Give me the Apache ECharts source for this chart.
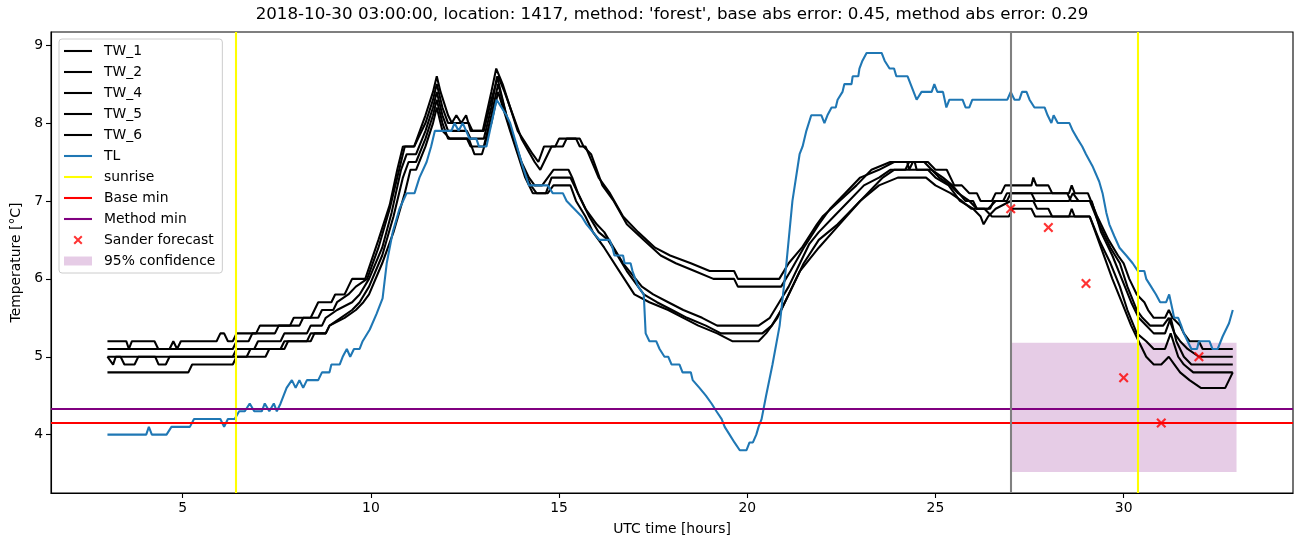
<!DOCTYPE html>
<html>
<head>
<meta charset="utf-8">
<script src="https://cdn.jsdelivr.net/npm/echarts@6/dist/echarts.min.js"></script>
<style>html,body{margin:0;padding:0;background:#fff}#chart{width:1302px;height:547px}</style>
</head>
<body>
<div id="chart"></div>
<script>
// ---------------- data (hours UTC, temperature °C) ----------------
const tw1 = [[3.0,5.2],[3.5,5.2],[3.57,5.1],[3.65,5.2],[4.25,5.2],[4.35,5.1],[4.65,5.1],[4.75,5.2],[4.85,5.1],[4.95,5.2],[5.9,5.2],[6.0,5.3],[6.1,5.3],[6.2,5.2],[6.33,5.2],[6.43,5.3],[6.95,5.3],[7.05,5.4],[7.85,5.4],[7.95,5.5],[8.4,5.5],[8.5,5.6],[8.6,5.7],[8.95,5.7],[9.05,5.8],[9.3,5.8],[9.4,5.9],[9.5,6.0],[9.85,6.0],[10.2,6.5],[10.5,6.95],[10.7,7.4],[10.85,7.7],[11.15,7.7],[11.45,8.1],[11.65,8.4],[11.75,8.6],[11.85,8.4],[12.05,8.1],[12.15,8.0],[12.27,8.1],[12.4,8.0],[12.53,8.1],[12.65,7.9],[12.97,7.9],[13.2,8.4],[13.33,8.7],[13.5,8.5],[13.9,7.9],[14.3,7.6],[14.45,7.5],[14.6,7.7],[14.9,7.7],[15.0,7.8],[15.45,7.8],[15.55,7.7],[15.7,7.7],[16.05,7.3],[16.35,7.1],[16.7,6.8],[17.1,6.6],[17.55,6.4],[17.95,6.3],[18.5,6.2],[19.0,6.1],[19.65,6.1],[19.75,6.0],[20.85,6.0],[21.1,6.2],[21.45,6.4],[21.85,6.7],[22.0,6.8],[22.45,7.0],[22.9,7.2],[23.3,7.4],[23.8,7.5],[24.25,7.5],[24.3,7.4],[24.4,7.5],[24.8,7.5],[25.0,7.4],[25.3,7.4],[25.5,7.2],[25.7,7.2],[25.9,7.1],[26.1,7.1],[26.2,7.0],[26.5,7.0],[26.6,7.1],[26.75,7.1],[26.85,7.2],[27.55,7.2],[27.6,7.3],[27.68,7.2],[28.0,7.2],[28.1,7.1],[28.55,7.1],[28.62,7.2],[28.7,7.1],[29.05,7.1],[29.3,6.8],[29.6,6.5],[29.85,6.3],[30.0,6.2],[30.15,6.0],[30.35,5.8],[30.55,5.7],[30.65,5.6],[30.8,5.5],[31.1,5.5],[31.2,5.6],[31.3,5.5],[31.5,5.4],[31.6,5.3],[31.75,5.2],[32.0,5.2],[32.1,5.1],[32.9,5.1]];
const tw2 = [[3.0,5.1],[6.33,5.1],[6.43,5.2],[6.75,5.2],[6.85,5.3],[7.45,5.3],[7.55,5.4],[8.1,5.4],[8.2,5.5],[8.6,5.5],[8.7,5.6],[9.0,5.6],[9.1,5.7],[9.4,5.8],[9.6,5.9],[9.9,6.0],[10.2,6.4],[10.5,6.9],[10.75,7.4],[10.9,7.7],[11.15,7.7],[11.45,8.0],[11.65,8.3],[11.75,8.5],[11.9,8.2],[12.05,8.0],[12.6,8.0],[12.7,7.9],[13.0,7.9],[13.2,8.3],[13.38,8.6],[13.55,8.4],[14.0,7.8],[14.35,7.5],[14.5,7.4],[14.7,7.6],[14.8,7.7],[15.1,7.7],[15.2,7.8],[15.55,7.8],[15.65,7.7],[15.85,7.6],[16.15,7.2],[16.45,7.0],[16.8,6.7],[17.25,6.5],[17.7,6.3],[18.1,6.2],[18.6,6.1],[19.1,6.0],[19.65,6.0],[19.75,5.9],[20.9,5.9],[21.15,6.1],[21.5,6.4],[21.9,6.7],[22.2,6.9],[22.6,7.1],[23.0,7.3],[23.5,7.4],[23.9,7.5],[24.7,7.5],[24.9,7.4],[25.2,7.3],[25.45,7.2],[25.8,7.0],[26.0,7.0],[26.1,6.9],[26.45,6.9],[26.55,7.0],[26.8,7.0],[26.9,7.1],[27.55,7.1],[27.65,7.0],[28.55,7.0],[28.65,7.1],[28.8,7.0],[29.1,7.0],[29.35,6.7],[29.65,6.4],[29.9,6.2],[30.1,5.9],[30.35,5.6],[30.5,5.5],[30.7,5.4],[31.05,5.4],[31.2,5.5],[31.35,5.3],[31.5,5.2],[31.7,5.1],[32.0,5.0],[32.9,5.0]];
const tw4 = [[3.0,5.0],[6.33,5.0],[6.43,5.1],[6.9,5.1],[7.0,5.2],[7.6,5.2],[7.7,5.3],[8.3,5.3],[8.4,5.4],[8.7,5.4],[8.8,5.5],[9.1,5.6],[9.5,5.7],[9.7,5.8],[9.95,6.0],[10.3,6.4],[10.55,6.85],[10.8,7.4],[10.95,7.6],[11.2,7.6],[11.45,7.9],[11.65,8.2],[11.75,8.4],[11.9,8.1],[12.05,7.9],[12.55,7.9],[12.65,7.8],[13.0,7.8],[13.2,8.2],[13.35,8.6],[13.6,8.1],[13.8,7.8],[14.0,7.5],[14.2,7.3],[14.35,7.2],[14.55,7.2],[14.7,7.3],[14.85,7.4],[15.25,7.4],[15.35,7.3],[15.5,7.1],[15.7,6.9],[16.0,6.7],[16.2,6.6],[16.7,6.2],[17.2,5.9],[17.5,5.8],[17.9,5.7],[18.3,5.6],[18.8,5.5],[19.2,5.4],[20.3,5.4],[20.6,5.5],[20.85,5.7],[21.1,5.9],[21.4,6.2],[21.65,6.45],[21.9,6.6],[22.3,6.8],[22.7,7.0],[23.1,7.2],[23.5,7.3],[23.8,7.4],[24.2,7.4],[24.3,7.5],[24.45,7.5],[24.5,7.4],[24.9,7.4],[25.1,7.3],[25.4,7.2],[25.6,7.1],[25.9,7.0],[26.1,6.9],[26.4,6.9],[26.6,7.0],[26.9,7.0],[27.0,7.1],[28.5,7.1],[28.6,7.0],[29.15,7.0],[29.4,6.6],[29.7,6.3],[29.95,6.0],[30.2,5.7],[30.4,5.5],[30.6,5.4],[30.8,5.3],[31.1,5.3],[31.25,5.5],[31.4,5.2],[31.6,5.0],[31.8,4.9],[32.9,4.9]];
const tw5 = [[3.0,5.0],[3.15,4.9],[3.22,5.0],[3.35,5.0],[3.45,4.9],[3.72,4.9],[3.82,5.0],[4.27,5.0],[4.36,4.9],[4.55,4.9],[4.65,5.0],[6.7,5.0],[6.8,5.1],[7.6,5.1],[7.7,5.2],[8.3,5.2],[8.4,5.3],[8.8,5.3],[8.9,5.4],[9.2,5.5],[9.5,5.6],[9.7,5.7],[9.95,5.9],[10.3,6.3],[10.6,6.8],[10.85,7.3],[11.0,7.5],[11.2,7.5],[11.45,7.8],[11.65,8.1],[11.75,8.3],[11.9,8.0],[12.05,7.8],[12.55,7.8],[12.65,7.7],[13.0,7.7],[13.2,8.1],[13.38,8.5],[13.65,8.0],[13.85,7.7],[14.05,7.4],[14.25,7.2],[14.4,7.1],[14.65,7.1],[14.8,7.3],[15.3,7.3],[15.4,7.2],[15.6,7.0],[15.8,6.8],[16.05,6.6],[16.3,6.5],[16.8,6.1],[17.25,5.8],[17.6,5.7],[18.0,5.6],[18.4,5.5],[18.9,5.4],[19.3,5.3],[20.4,5.3],[20.65,5.4],[20.9,5.6],[21.2,5.9],[21.5,6.2],[21.9,6.5],[22.4,6.7],[22.8,6.9],[23.2,7.1],[23.6,7.3],[23.9,7.4],[24.8,7.4],[25.0,7.3],[25.35,7.2],[25.65,7.0],[26.0,6.9],[26.2,6.8],[26.28,6.7],[26.4,6.8],[26.6,6.9],[27.0,7.0],[27.6,7.0],[27.7,6.9],[28.0,6.9],[28.1,6.8],[29.1,6.8],[29.35,6.5],[29.65,6.2],[29.9,5.9],[30.1,5.6],[30.35,5.3],[30.6,5.2],[30.8,5.1],[31.1,5.1],[31.25,5.3],[31.45,5.0],[31.6,4.9],[31.85,4.8],[32.9,4.8]];
const tw6 = [[3.0,4.8],[5.15,4.8],[5.25,4.9],[6.33,4.9],[6.43,5.0],[7.2,5.0],[7.3,5.1],[7.7,5.1],[7.8,5.2],[8.4,5.2],[8.5,5.3],[8.8,5.3],[8.9,5.4],[9.3,5.5],[9.6,5.6],[9.8,5.7],[9.95,5.8],[10.3,6.2],[10.6,6.6],[10.9,7.1],[11.05,7.4],[11.2,7.4],[11.45,7.7],[11.65,8.0],[11.75,8.2],[11.9,7.9],[12.1,7.8],[12.6,7.8],[12.75,7.6],[12.95,7.6],[13.2,8.0],[13.38,8.4],[13.7,7.9],[13.9,7.6],[14.1,7.3],[14.3,7.1],[14.7,7.1],[14.85,7.2],[15.3,7.2],[15.45,7.0],[15.7,6.8],[15.9,6.6],[16.2,6.4],[16.6,6.1],[17.0,5.8],[17.4,5.7],[17.9,5.6],[18.3,5.5],[18.7,5.4],[19.2,5.3],[19.6,5.2],[20.3,5.2],[20.5,5.3],[20.8,5.5],[21.1,5.8],[21.4,6.1],[21.9,6.4],[22.45,6.7],[23.0,7.0],[23.5,7.2],[24.0,7.3],[24.75,7.3],[25.0,7.2],[25.4,7.1],[25.7,7.0],[25.95,6.9],[26.3,6.9],[26.5,6.8],[26.95,6.8],[27.05,6.9],[27.55,6.9],[27.65,6.8],[28.55,6.8],[28.62,6.9],[28.7,6.8],[29.1,6.8],[29.4,6.4],[29.7,6.0],[29.95,5.7],[30.2,5.4],[30.4,5.2],[30.6,5.0],[30.8,4.9],[31.0,4.9],[31.2,5.0],[31.35,4.9],[31.5,4.8],[31.75,4.7],[32.05,4.6],[32.7,4.6],[32.9,4.8]];
const tl = [[3.0,4.0],[4.03,4.0],[4.1,4.1],[4.18,4.0],[4.57,4.0],[4.7,4.1],[5.19,4.1],[5.3,4.2],[6.0,4.2],[6.1,4.1],[6.2,4.2],[6.38,4.2],[6.5,4.3],[6.65,4.3],[6.78,4.4],[6.9,4.3],[7.1,4.3],[7.18,4.4],[7.3,4.3],[7.42,4.4],[7.5,4.3],[7.6,4.4],[7.76,4.6],[7.9,4.7],[8.0,4.6],[8.1,4.7],[8.2,4.6],[8.3,4.7],[8.6,4.7],[8.7,4.8],[8.9,4.8],[8.95,4.9],[9.17,4.9],[9.25,5.0],[9.36,5.1],[9.45,5.0],[9.55,5.1],[9.7,5.1],[9.78,5.2],[9.97,5.35],[10.15,5.55],[10.31,5.75],[10.42,6.2],[10.58,6.6],[10.76,6.9],[10.95,7.1],[11.16,7.1],[11.29,7.3],[11.48,7.5],[11.6,7.7],[11.7,7.9],[12.14,7.9],[12.22,8.0],[12.33,7.9],[12.44,8.0],[12.62,7.8],[12.8,7.8],[12.87,7.7],[13.07,7.7],[13.34,8.3],[13.47,8.2],[13.6,8.1],[13.7,8.0],[14.03,7.45],[14.2,7.2],[14.7,7.2],[14.83,7.1],[15.1,7.1],[15.2,7.0],[15.4,6.9],[15.6,6.8],[15.73,6.7],[15.9,6.6],[16.07,6.5],[16.34,6.5],[16.42,6.4],[16.47,6.3],[16.7,6.3],[16.74,6.2],[16.9,6.2],[16.95,6.1],[17.1,5.9],[17.25,5.8],[17.3,5.3],[17.4,5.2],[17.58,5.2],[17.67,5.1],[17.8,5.0],[17.9,5.0],[17.99,4.9],[18.2,4.9],[18.28,4.8],[18.5,4.8],[18.55,4.7],[18.73,4.6],[18.9,4.5],[19.05,4.4],[19.18,4.3],[19.32,4.2],[19.4,4.1],[19.53,4.0],[19.66,3.9],[19.8,3.8],[19.98,3.8],[20.06,3.9],[20.15,3.9],[20.24,4.0],[20.3,4.1],[20.38,4.2],[20.5,4.5],[20.67,4.9],[20.86,5.4],[21.04,6.2],[21.2,7.0],[21.39,7.6],[21.47,7.7],[21.57,7.9],[21.7,8.1],[21.97,8.1],[22.05,8.0],[22.13,8.1],[22.24,8.2],[22.35,8.2],[22.4,8.3],[22.53,8.4],[22.58,8.5],[22.77,8.5],[22.8,8.6],[22.95,8.6],[22.98,8.7],[23.06,8.8],[23.17,8.9],[23.57,8.9],[23.65,8.8],[23.78,8.7],[23.9,8.7],[23.96,8.6],[24.26,8.6],[24.34,8.5],[24.5,8.3],[24.63,8.4],[24.9,8.4],[24.97,8.5],[25.05,8.4],[25.2,8.4],[25.29,8.2],[25.37,8.3],[25.72,8.3],[25.8,8.2],[25.9,8.2],[25.98,8.3],[26.91,8.3],[27.0,8.4],[27.1,8.3],[27.23,8.3],[27.3,8.4],[27.42,8.4],[27.5,8.3],[27.63,8.2],[27.9,8.2],[27.98,8.1],[28.08,8.0],[28.14,8.1],[28.25,8.0],[28.56,8.0],[28.65,7.9],[28.77,7.8],[28.9,7.7],[29.0,7.6],[29.17,7.45],[29.35,7.25],[29.44,7.1],[29.54,6.85],[29.62,6.7],[29.75,6.55],[29.89,6.4],[30.07,6.3],[30.24,6.2],[30.38,6.1],[30.55,6.1],[30.6,6.0],[30.73,5.9],[30.86,5.8],[30.97,5.7],[31.13,5.7],[31.21,5.8],[31.3,5.6],[31.34,5.5],[31.45,5.5],[31.53,5.4],[31.6,5.3],[31.7,5.2],[31.8,5.1],[31.95,5.1],[32.0,5.2],[32.28,5.2],[32.36,5.1],[32.5,5.1],[32.63,5.26],[32.8,5.43],[32.9,5.6]];
const sunriseHours = [6.41, 30.37];
const forecastHour = 27.0;
const baseMin = 4.15;
const methodMin = 4.33;
const sanderForecast = [[27,6.9],[28,6.66],[29,5.94],[30,4.73],[31,4.15],[32,5.0]];
const confHours = [27, 33];
const confBounds = [3.52, 5.18];
const xTicks = [5, 10, 15, 20, 25, 30];
const yTicks = [4, 5, 6, 7, 8, 9];
const xRange = [1.5, 34.5];
const yRange = [3.251, 9.169];
const titleText = "2018-10-30 03:00:00, location: 1417, method: 'forest', base abs error: 0.45, method abs error: 0.29";

// ---------------- chart ----------------
const FONT = 'DejaVu Sans';
const LW = 2.08;
const chart = echarts.init(document.getElementById('chart'), null, {renderer: 'canvas'});

const LINE_ICON = 'path://M0,0L0,0M35,10L35,10M0,3.96L28,3.96L28,6.04L0,6.04Z';
const X_ICON = 'path://M0,0L0,0M35,10L35,10M10.9,0.5L14,3.6L17.1,0.5L18.5,1.9L15.4,5L18.5,8.1L17.1,9.5L14,6.4L10.9,9.5L9.5,8.1L12.6,5L9.5,1.9Z';
const RECT_ICON = 'path://M0,0L0,0M35,10L35,10M0,0.5L28,0.5L28,9.5L0,9.5Z';
const X_SYMBOL = 'path://M1.55,0L5,3.45L8.45,0L10,1.55L6.55,5L10,8.45L8.45,10L5,6.55L1.55,10L0,8.45L3.45,5L0,1.55Z';

function lineSeries(name, data, color) {
  return {
    name, type: 'line', data, color,
    showSymbol: false, symbol: 'none',
    lineStyle: {width: LW, color},
    emphasis: {disabled: true}, silent: true, animation: false, z: 3
  };
}
function markSeries(name, color, markData, z) {
  return {
    name, type: 'line', data: [], color, silent: true, animation: false,
    markLine: {
      silent: true, symbol: ['none', 'none'], animation: false,
      label: {show: false},
      lineStyle: {color, width: LW, type: 'solid'},
      emphasis: {disabled: true},
      data: markData
    },
    z: z || 4
  };
}

const option = {
  animation: false,
  backgroundColor: '#ffffff',
  textStyle: {fontFamily: FONT, color: '#000'},
  title: {
    text: titleText, left: 672, top: 6, textAlign: 'center', padding: 0,
    textStyle: {fontFamily: FONT, fontSize: 16.7, fontWeight: 'normal', color: '#000'}
  },
  grid: {left: 51, right: 9, top: 32, bottom: 54, show: true, borderColor: '#000', borderWidth: 1.1, backgroundColor: 'transparent'},
  legend: {
    left: 59, top: 39, orient: 'vertical',
    itemWidth: 35, itemHeight: 10, itemGap: 5,
    padding: [4, 7, 4, 5],
    backgroundColor: 'rgba(255,255,255,0.8)', borderColor: '#cccccc', borderWidth: 1, borderRadius: 3,
    textStyle: {fontFamily: FONT, fontSize: 13.9, color: '#000', lineHeight: 16},
    itemStyle: {borderWidth: 0},
    selectedMode: false,
    data: [
      {name: 'TW_1', icon: LINE_ICON}, {name: 'TW_2', icon: LINE_ICON}, {name: 'TW_4', icon: LINE_ICON},
      {name: 'TW_5', icon: LINE_ICON}, {name: 'TW_6', icon: LINE_ICON}, {name: 'TL', icon: LINE_ICON},
      {name: 'sunrise', icon: LINE_ICON}, {name: 'Base min', icon: LINE_ICON}, {name: 'Method min', icon: LINE_ICON},
      {name: 'Sander forecast', icon: X_ICON}, {name: '95% confidence', icon: RECT_ICON}
    ]
  },
  xAxis: {
    type: 'value', min: xRange[0], max: xRange[1],
    name: 'UTC time [hours]', nameLocation: 'middle', nameGap: 29,
    nameTextStyle: {fontFamily: FONT, fontSize: 13.9, color: '#000'},
    axisLine: {show: true, onZero: false, lineStyle: {color: '#000', width: 1.1}},
    axisTick: {show: true, length: 5, lineStyle: {color: '#000', width: 1.1}, customValues: xTicks},
    axisLabel: {fontFamily: FONT, fontSize: 13.9, color: '#000', margin: 8, customValues: xTicks},
    splitLine: {show: false}
  },
  yAxis: {
    type: 'value', min: yRange[0], max: yRange[1],
    name: 'Temperature [°C]', nameLocation: 'middle', nameGap: 28, nameRotate: 90,
    nameTextStyle: {fontFamily: FONT, fontSize: 13.9, color: '#000'},
    axisLine: {show: true, onZero: false, lineStyle: {color: '#000', width: 1.1}},
    axisTick: {show: true, length: 5, lineStyle: {color: '#000', width: 1.1}, customValues: yTicks},
    axisLabel: {fontFamily: FONT, fontSize: 13.9, color: '#000', margin: 8, customValues: yTicks},
    splitLine: {show: false}
  },
  series: [
    lineSeries('TW_1', tw1, '#000000'),
    lineSeries('TW_2', tw2, '#000000'),
    lineSeries('TW_4', tw4, '#000000'),
    lineSeries('TW_5', tw5, '#000000'),
    lineSeries('TW_6', tw6, '#000000'),
    lineSeries('TL', tl, '#1f77b4'),
    markSeries('sunrise', '#ffff00', sunriseHours.map(h => ({xAxis: h}))),
    markSeries('Base min', '#ff0000', [{yAxis: baseMin}]),
    markSeries('Method min', '#800080', [{yAxis: methodMin}]),
    markSeries('forecast time', '#808080', [{xAxis: forecastHour}]),
    {
      name: 'Sander forecast', type: 'scatter', data: sanderForecast, color: '#ff0000',
      symbol: X_SYMBOL, symbolSize: 10, itemStyle: {color: '#ff0000'},
      silent: true, animation: false, z: 6
    },
    {
      name: '95% confidence', type: 'line', data: [], color: 'rgba(128,0,128,0.2)',
      silent: true, animation: false,
      markArea: {
        silent: true, animation: false,
        itemStyle: {color: 'rgba(128,0,128,0.2)'},
        label: {show: false},
        data: [[{coord: [confHours[0], confBounds[0]]}, {coord: [confHours[1], confBounds[1]]}]]
      },
      z: 1
    }
  ]
};
chart.setOption(option);
</script>
</body>
</html>
